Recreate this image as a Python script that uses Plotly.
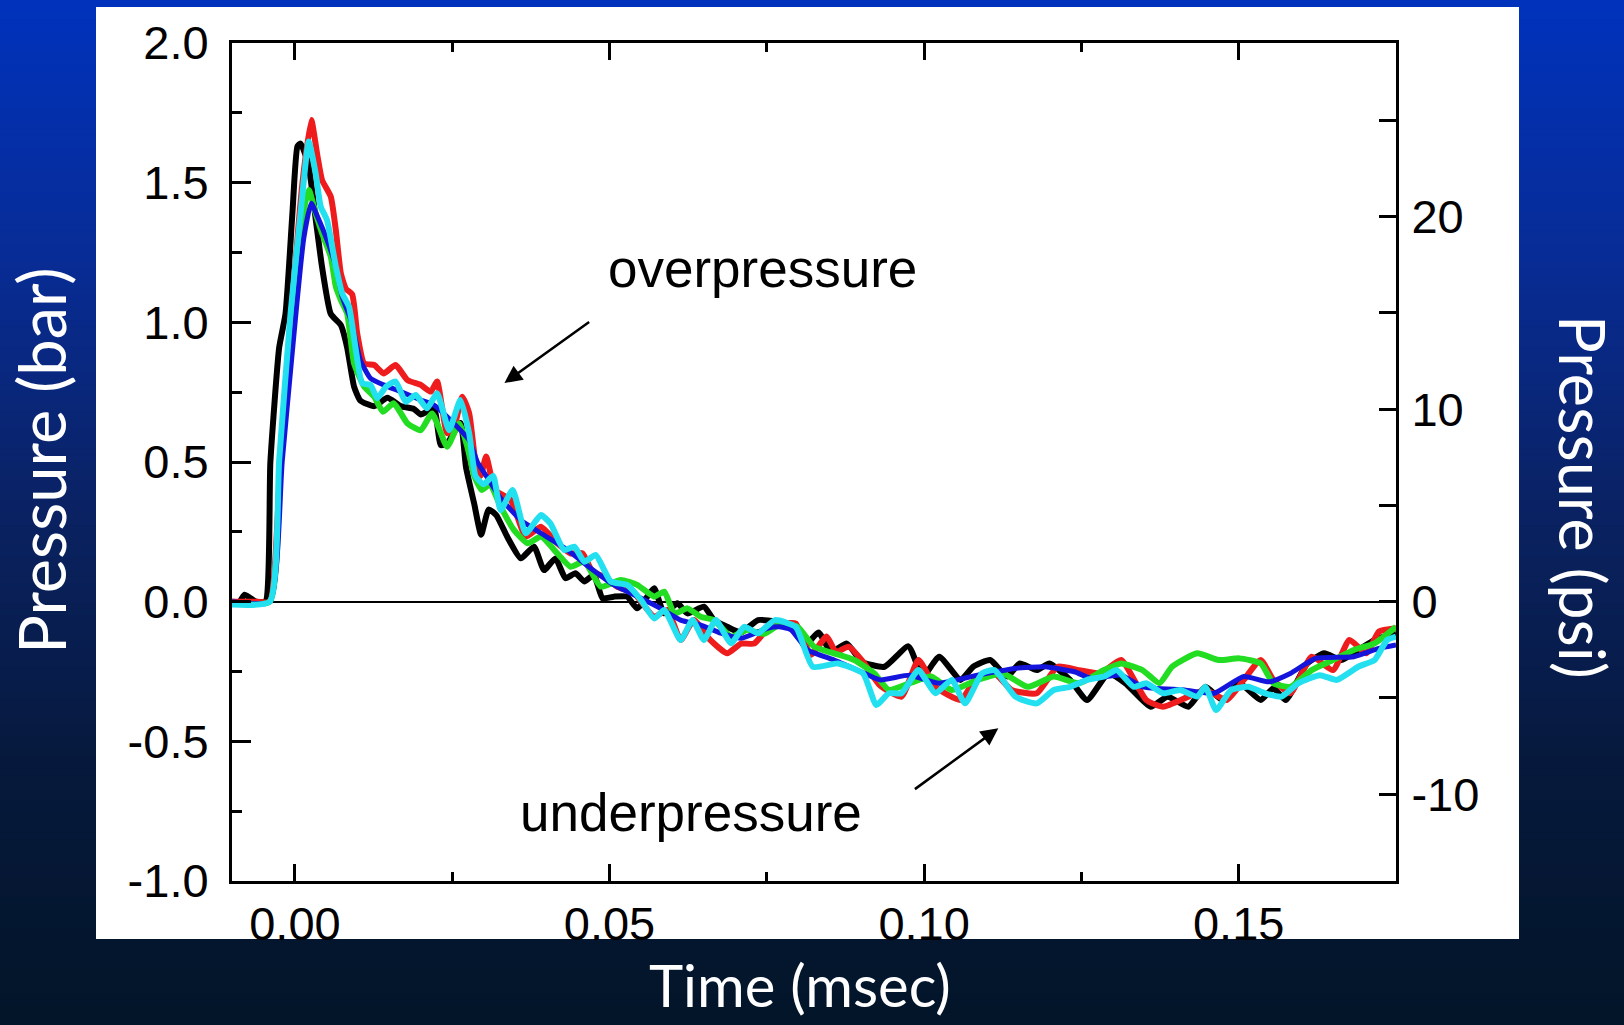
import plotly.graph_objects as go

# ---------------- data (time in msec, pressure in bar) ----------------
black_t = [-0.0100, -0.0088, -0.0080, -0.0072, -0.0062, -0.0047, -0.0039, -0.0025, -0.0015, -0.0004,
           0.0004, 0.0009, 0.0021, 0.0033, 0.0043, 0.0057, 0.0073, 0.0083, 0.0094, 0.0104,
           0.0126, 0.0147, 0.0168, 0.0189, 0.0200, 0.0221, 0.0232, 0.0243, 0.0263, 0.0272,
           0.0285, 0.0296, 0.0308, 0.0320, 0.0338, 0.0359, 0.0380, 0.0396, 0.0414, 0.0430,
           0.0446, 0.0460, 0.0475, 0.0489, 0.0507, 0.0528, 0.0544, 0.0560, 0.0571, 0.0587,
           0.0608, 0.0624, 0.0650, 0.0666, 0.0687, 0.0709, 0.0736, 0.0767, 0.0796, 0.0810,
           0.0832, 0.0852, 0.0877, 0.0901, 0.0937, 0.0975, 0.0998, 0.1024, 0.1058, 0.1078,
           0.1105, 0.1132, 0.1152, 0.1179, 0.1199, 0.1232, 0.1259, 0.1293, 0.1320, 0.1360,
           0.1387, 0.1420, 0.1447, 0.1474, 0.1501, 0.1535, 0.1555, 0.1575, 0.1609, 0.1636,
           0.1663, 0.1690, 0.1716, 0.1750]
black_p = [0.00, 0.00, 0.025, 0.015, 0.00, 0.00, 0.50, 0.91, 1.03, 1.39,
           1.63, 1.64, 1.57, 1.37, 1.20, 1.03, 0.99, 0.91, 0.77, 0.72,
           0.70, 0.73, 0.70, 0.69, 0.67, 0.69, 0.56, 0.57, 0.64, 0.48,
           0.35, 0.24, 0.33, 0.31, 0.23, 0.155, 0.197, 0.113, 0.155, 0.084,
           0.102, 0.072, 0.096, 0.012, 0.018, 0.018, -0.024, 0.018, 0.048, -0.042,
           -0.006, -0.042, -0.018, -0.066, -0.090, -0.110, -0.066, -0.072, -0.085, -0.160,
           -0.110, -0.180, -0.150, -0.215, -0.233, -0.160, -0.268, -0.197, -0.280, -0.233,
           -0.209, -0.268, -0.221, -0.245, -0.221, -0.280, -0.352, -0.257, -0.292, -0.376,
           -0.340, -0.376, -0.305, -0.352, -0.292, -0.352, -0.310, -0.352, -0.221, -0.185,
           -0.209, -0.173, -0.137, -0.113]

red_t = [-0.0100, -0.0060, -0.0040, -0.0023, -0.0005, 0.0012, 0.0026, 0.0036, 0.0043, 0.0057,
         0.0065, 0.0073, 0.0081, 0.0091, 0.0099, 0.0110, 0.0126, 0.0141, 0.0160, 0.0179,
         0.0200, 0.0216, 0.0226, 0.0242, 0.0253, 0.0266, 0.0277, 0.0287, 0.0295, 0.0304,
         0.0318, 0.0343, 0.0367, 0.0391, 0.0417, 0.0438, 0.0457, 0.0473, 0.0491, 0.0512,
         0.0539, 0.0571, 0.0592, 0.0613, 0.0634, 0.0660, 0.0687, 0.0709, 0.0730, 0.0756,
         0.0777, 0.0796, 0.0820, 0.0845, 0.0860, 0.0880, 0.0903, 0.0930, 0.0964, 0.0991,
         0.1018, 0.1058, 0.1085, 0.1112, 0.1139, 0.1179, 0.1212, 0.1246, 0.1280, 0.1313,
         0.1353, 0.1380, 0.1420, 0.1447, 0.1481, 0.1508, 0.1535, 0.1555, 0.1582, 0.1616,
         0.1650, 0.1676, 0.1703, 0.1723, 0.1750]
red_p = [0.00, 0.00, 0.00, 0.507, 1.05, 1.50, 1.724, 1.593, 1.51, 1.45,
         1.33, 1.175, 1.12, 1.10, 0.96, 0.853, 0.847, 0.817, 0.847, 0.793,
         0.776, 0.752, 0.788, 0.603, 0.626, 0.734, 0.674, 0.50, 0.45, 0.52,
         0.40, 0.364, 0.233, 0.268, 0.209, 0.173, 0.173, 0.107, 0.09, 0.054,
         0.03, -0.054, -0.03, -0.137, -0.066, -0.137, -0.185, -0.15, -0.15, -0.085,
         -0.078, -0.078, -0.19, -0.125, -0.18, -0.161, -0.215, -0.30, -0.34, -0.209,
         -0.305, -0.352, -0.268, -0.257, -0.316, -0.328, -0.233, -0.245, -0.257, -0.209,
         -0.352, -0.376, -0.34, -0.316, -0.352, -0.28, -0.209, -0.28, -0.328, -0.197,
         -0.245, -0.137, -0.185, -0.107, -0.095]

green_t = [-0.0100, -0.0040, -0.0023, 0.0010, 0.0022, 0.0033, 0.0043, 0.0057, 0.0065, 0.0073,
           0.0083, 0.0094, 0.0110, 0.0126, 0.0140, 0.0157, 0.0179, 0.0200, 0.0218, 0.0242,
           0.0261, 0.0274, 0.0285, 0.0297, 0.0310, 0.0327, 0.0348, 0.0370, 0.0391, 0.0417,
           0.0438, 0.0460, 0.0486, 0.0518, 0.0544, 0.0571, 0.0587, 0.0603, 0.0624, 0.0645,
           0.0666, 0.0693, 0.0719, 0.0746, 0.0772, 0.0799, 0.0825, 0.0857, 0.0889, 0.0921,
           0.0944, 0.0977, 0.1011, 0.1044, 0.1085, 0.1125, 0.1165, 0.1206, 0.1246, 0.1286,
           0.1313, 0.1347, 0.1374, 0.1394, 0.1434, 0.1468, 0.1501, 0.1535, 0.1555, 0.1582,
           0.1616, 0.1650, 0.1683, 0.1716, 0.1750]
green_p = [-0.005, 0.00, 0.507, 1.35, 1.474, 1.39, 1.32, 1.235, 1.128, 1.08,
           1.032, 0.853, 0.77, 0.734, 0.68, 0.71, 0.638, 0.614, 0.674, 0.555,
           0.638, 0.555, 0.45, 0.40, 0.42, 0.34, 0.257, 0.209, 0.233, 0.173,
           0.125, 0.143, 0.054, 0.078, 0.06, 0.018, 0.036, -0.042, -0.024, -0.054,
           -0.066, -0.125, -0.101, -0.115, -0.08, -0.09, -0.161, -0.185, -0.209, -0.257,
           -0.316, -0.292, -0.268, -0.316, -0.28, -0.257, -0.305, -0.268, -0.292, -0.245,
           -0.221, -0.245, -0.292, -0.233, -0.185, -0.209, -0.203, -0.221, -0.292, -0.305,
           -0.245, -0.209, -0.173, -0.149, -0.09]

blue_t = [-0.0100, -0.0040, -0.0020, 0.0014, 0.0026, 0.0036, 0.0051, 0.0065, 0.0075, 0.0089,
          0.0104, 0.0120, 0.0141, 0.0168, 0.0200, 0.0221, 0.0242, 0.0263, 0.0277, 0.0290,
          0.0310, 0.0327, 0.0359, 0.0391, 0.0433, 0.0470, 0.0507, 0.0550, 0.0581, 0.0613,
          0.0645, 0.0677, 0.0709, 0.0751, 0.0769, 0.0788, 0.0815, 0.0857, 0.0899, 0.0930,
          0.0977, 0.1024, 0.1085, 0.1145, 0.1192, 0.1239, 0.1266, 0.1313, 0.1347, 0.1414,
          0.1461, 0.1508, 0.1548, 0.1582, 0.1622, 0.1683, 0.1723, 0.1750]
blue_p = [0.00, 0.00, 0.507, 1.30, 1.426, 1.378, 1.295, 1.20, 1.092, 1.008,
          0.865, 0.80, 0.776, 0.752, 0.722, 0.704, 0.662, 0.614, 0.578, 0.50,
          0.43, 0.37, 0.292, 0.245, 0.185, 0.12, 0.06, 0.012, -0.024, -0.066,
          -0.084, -0.113, -0.131, -0.095, -0.09, -0.10, -0.173, -0.209, -0.25, -0.28,
          -0.263, -0.292, -0.263, -0.239, -0.233, -0.251, -0.275, -0.263, -0.305, -0.316,
          -0.328, -0.268, -0.287, -0.257, -0.203, -0.197, -0.167, -0.155]

cyan_t = [-0.0100, -0.0040, -0.0025, -0.0007, 0.0009, 0.0022, 0.0033, 0.0041, 0.0051, 0.0065,
          0.0075, 0.0086, 0.0096, 0.0107, 0.0120, 0.0131, 0.0145, 0.0160, 0.0176, 0.0192,
          0.0210, 0.0226, 0.0245, 0.0263, 0.0277, 0.0287, 0.0300, 0.0315, 0.0327, 0.0346,
          0.0367, 0.0391, 0.0406, 0.0428, 0.0444, 0.0460, 0.0478, 0.0502, 0.0528, 0.0550,
          0.0571, 0.0587, 0.0613, 0.0632, 0.0650, 0.0669, 0.0693, 0.0714, 0.0736, 0.0763,
          0.0796, 0.0823, 0.0863, 0.0903, 0.0924, 0.0944, 0.0964, 0.0991, 0.1018, 0.1044,
          0.1065, 0.1092, 0.1112, 0.1145, 0.1179, 0.1206, 0.1232, 0.1259, 0.1286, 0.1306,
          0.1333, 0.1353, 0.1380, 0.1407, 0.1434, 0.1447, 0.1464, 0.1488, 0.1515, 0.1542,
          0.1568, 0.1595, 0.1629, 0.1656, 0.1690, 0.1716, 0.1736, 0.1750]
cyan_p = [-0.01, 0.00, 0.507, 1.03, 1.39, 1.647, 1.533, 1.414, 1.366, 1.20,
          1.104, 1.056, 0.913, 0.782, 0.776, 0.728, 0.77, 0.788, 0.716, 0.74,
          0.692, 0.746, 0.614, 0.722, 0.602, 0.45, 0.42, 0.45, 0.328, 0.40,
          0.245, 0.31, 0.28, 0.185, 0.197, 0.143, 0.167, 0.072, 0.06, 0.006,
          -0.06, -0.03, -0.137, -0.066, -0.137, -0.066, -0.149, -0.09, -0.113, -0.066,
          -0.09, -0.233, -0.221, -0.257, -0.37, -0.328, -0.328, -0.245, -0.328, -0.28,
          -0.364, -0.257, -0.245, -0.34, -0.364, -0.316, -0.305, -0.28, -0.268, -0.245,
          -0.305, -0.292, -0.328, -0.316, -0.34, -0.305, -0.388, -0.316, -0.305, -0.328,
          -0.34, -0.292, -0.263, -0.28, -0.233, -0.209, -0.137, -0.125]

bar_ticks = [-1.0, -0.5, 0.0, 0.5, 1.0, 1.5, 2.0]
bar_labels = ["-1.0", "-0.5", "0.0", "0.5", "1.0", "1.5", "2.0"]
bar_minor = [-0.75, -0.25, 0.25, 0.75, 1.25, 1.75]
psi_ticks = [-10, 0, 10, 20]
psi_labels = ["-10", "0", "10", "20"]
psi_minor = [-5, 5, 15, 25]
time_ticks = [0.0, 0.05, 0.10, 0.15]
time_labels = ["0.00", "0.05", "0.10", "0.15"]
time_minor = [0.025, 0.075, 0.125, 0.175]
PSI_PER_BAR = 14.5038

# ---------------- layout geometry ----------------
W, H = 1624, 1025
L, R, T, B = 232, 1396, 43, 881
PW, PH = R - L, B - T


def px_x(px):
    return (px - L) / PW


def px_y(py):
    return (B - py) / PH


fig = go.Figure()

series = [
    (black_t, black_p, "#000000", 6.0),
    (red_t, red_p, "#ee1c1c", 6.0),
    (green_t, green_p, "#22dd22", 6.0),
    (blue_t, blue_p, "#1414dc", 5.0),
    (cyan_t, cyan_p, "#22e0f0", 6.0),
]
for tt, pp, col, w in series:
    fig.add_trace(go.Scatter(x=tt, y=pp, mode="lines",
                             line=dict(color=col, width=w, shape="spline", smoothing=0.5),
                             showlegend=False, hoverinfo="skip"))

# invisible trace to anchor psi axis
fig.add_trace(go.Scatter(x=[0.0], y=[0.0], yaxis="y2", mode="markers",
                         marker=dict(opacity=0), showlegend=False, hoverinfo="skip"))

# background gradient
stops = [(0.0, (0, 50, 188)), (0.25, (8, 44, 150)), (0.5, (10, 34, 98)),
         (0.75, (6, 25, 60)), (1.0, (3, 21, 40))]


def grad(f):
    for (f0, c0), (f1, c1) in zip(stops[:-1], stops[1:]):
        if f0 <= f <= f1:
            u = (f - f0) / (f1 - f0)
            return "rgb(%d,%d,%d)" % tuple(round(a + (b - a) * u) for a, b in zip(c0, c1))
    return "rgb(3,21,40)"


shapes = []
N = 160
for k in range(N):
    y0 = k * H / N
    y1 = (k + 1) * H / N + 1
    shapes.append(dict(type="rect", xref="paper", yref="paper", layer="below",
                       x0=px_x(-5), x1=px_x(W + 5), y0=px_y(y1), y1=px_y(y0),
                       line=dict(width=0), fillcolor=grad((k + 0.5) / N)))
shapes.append(dict(type="rect", xref="paper", yref="paper", layer="below",
                   x0=px_x(96), x1=px_x(1519), y0=px_y(939), y1=px_y(7),
                   line=dict(width=0), fillcolor="white"))

tickfont = dict(family="Liberation Sans, Arial, sans-serif", size=47, color="black")
titlefont = dict(family="Lato, Open Sans, sans-serif", size=65, color="white")
annfont = dict(family="Liberation Sans, Arial, sans-serif", size=53, color="black")

annotations = [
    dict(text="overpressure", x=0.0743, y=1.191, xref="x", yref="y", showarrow=False,
         xanchor="center", yanchor="middle", font=annfont),
    dict(text="underpressure", x=0.0629, y=-0.753, xref="x", yref="y", showarrow=False,
         xanchor="center", yanchor="middle", font=annfont),
    dict(text="", x=0.0333, y=0.783, ax=0.0470, ay=1.005, xref="x", yref="y",
         axref="x", ayref="y", showarrow=True, arrowhead=2, arrowsize=1.4,
         arrowwidth=2.5, arrowcolor="black"),
    dict(text="", x=0.1118, y=-0.453, ax=0.0983, ay=-0.675, xref="x", yref="y",
         axref="x", ayref="y", showarrow=True, arrowhead=2, arrowsize=1.4,
         arrowwidth=2.5, arrowcolor="black"),
    dict(text="Pressure (bar)", x=px_x(41), y=px_y(461), xref="paper", yref="paper",
         showarrow=False, textangle=-90, xanchor="center", yanchor="middle", font=titlefont),
    dict(text="Pressure (psi)", x=px_x(1584), y=px_y(497), xref="paper", yref="paper",
         showarrow=False, textangle=90, xanchor="center", yanchor="middle",
         font=dict(family="Lato, Open Sans, sans-serif", size=63, color="white")),
    dict(text="Time (msec)", x=px_x(800), y=px_y(984), xref="paper", yref="paper",
         showarrow=False, xanchor="center", yanchor="middle",
         font=dict(family="Lato, Open Sans, sans-serif", size=58, color="white")),
]

fig.update_layout(
    width=W, height=H,
    margin=dict(l=L, r=W - R, t=T, b=H - B, pad=0),
    paper_bgcolor="rgb(3,21,40)",
    plot_bgcolor="rgba(0,0,0,0)",
    shapes=shapes,
    annotations=annotations,
    xaxis=dict(range=[-0.01, 0.175], tickmode="array", tickvals=time_ticks, ticktext=time_labels,
               ticks="inside", ticklen=17, tickwidth=2.5, tickcolor="black",
               minor=dict(tickmode="array", tickvals=time_minor, ticks="inside", ticklen=9,
                          tickwidth=2.5, tickcolor="black", showgrid=False),
               showline=True, linewidth=3, linecolor="black", mirror="ticks",
               showgrid=False, zeroline=False, tickfont=tickfont, ticklabelstandoff=0),
    yaxis=dict(range=[-1, 2], tickmode="array", tickvals=bar_ticks, ticktext=bar_labels,
               ticks="inside", ticklen=19, tickwidth=2.5, tickcolor="black",
               minor=dict(tickmode="array", tickvals=bar_minor, ticks="inside", ticklen=10,
                          tickwidth=2.5, tickcolor="black", showgrid=False),
               showline=True, linewidth=3, linecolor="black", mirror=True,
               showgrid=False, zeroline=True, zerolinecolor="black", zerolinewidth=2,
               tickfont=tickfont, ticklabelstandoff=11),
    yaxis2=dict(range=[-1 * PSI_PER_BAR, 2 * PSI_PER_BAR], overlaying="y", side="right",
                tickmode="array", tickvals=psi_ticks, ticktext=psi_labels,
                ticks="inside", ticklen=17, tickwidth=2.5, tickcolor="black",
                minor=dict(tickmode="array", tickvals=psi_minor, ticks="inside", ticklen=17,
                           tickwidth=2.5, tickcolor="black", showgrid=False),
                showline=True, linewidth=3, linecolor="black",
                showgrid=False, zeroline=False, tickfont=tickfont, ticklabelstandoff=3),
)

fig.write_html("out.html")
